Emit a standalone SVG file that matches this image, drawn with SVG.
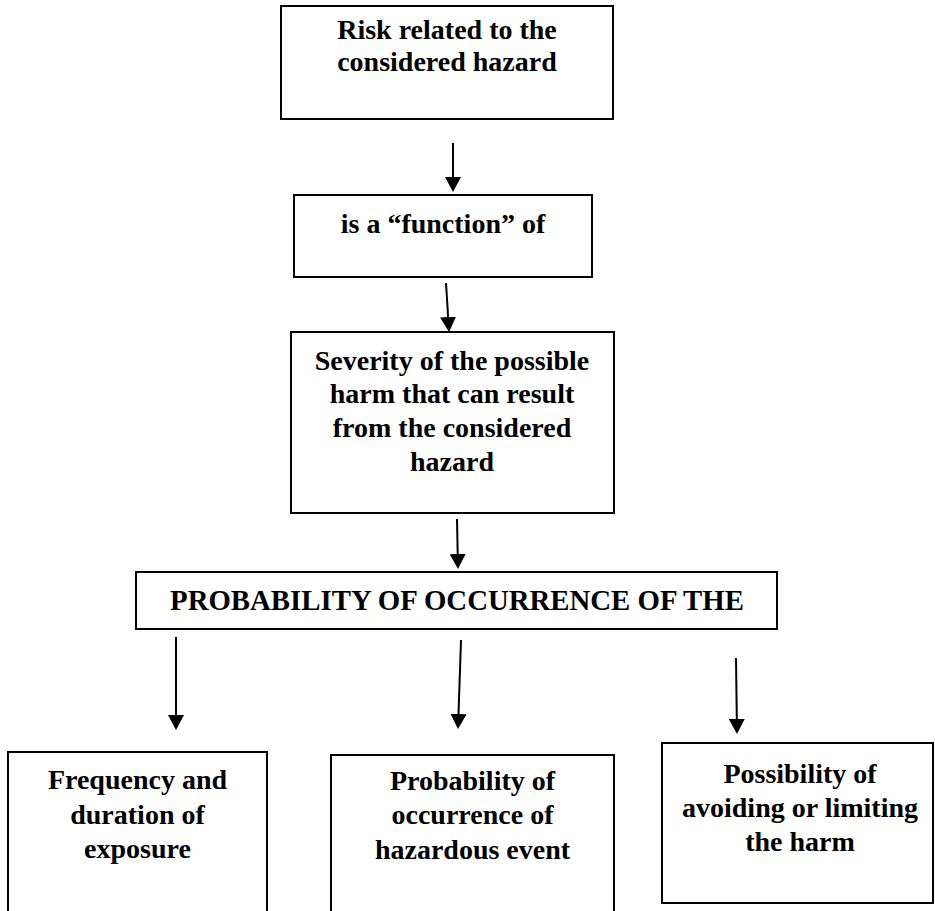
<svg xmlns="http://www.w3.org/2000/svg" width="935" height="911" viewBox="0 0 935 911">
<style>
.box{fill:#fff;stroke:#000;stroke-width:2}
.t{font-family:"Liberation Serif","Times New Roman",serif;font-weight:bold;font-size:28px;fill:#000;text-anchor:middle}
.big{font-size:28.8px}
.c{stroke:#000;stroke-width:2;fill:none;marker-end:url(#ah)}
</style>
<defs>
<marker id="ah" markerUnits="userSpaceOnUse" viewBox="0 0 15 16" markerWidth="15" markerHeight="16" refX="0" refY="8" orient="auto">
<path d="M0,0 L15,8 L0,16 Z" fill="#000"/>
</marker>
</defs>
<rect width="935" height="911" fill="#fff"/>
<g id="n1">
<rect class="box" x="281" y="6" width="332" height="113"/>
<text class="t" x="447" y="39">Risk related to the</text>
<text class="t" x="447" y="71">considered hazard</text>
</g>
<g id="n2">
<rect class="box" x="294" y="195" width="298" height="82"/>
<text class="t" x="443" y="233">is a “function” of</text>
</g>
<g id="n3">
<rect class="box" x="291" y="332" width="323" height="181"/>
<text class="t" x="452" y="370">Severity of the possible</text>
<text class="t" x="452" y="403">harm that can result</text>
<text class="t" x="452" y="437">from the considered</text>
<text class="t" x="452" y="471">hazard</text>
</g>
<g id="n4">
<rect class="box" x="136" y="572" width="641" height="57"/>
<text class="t big" x="457" y="610">PROBABILITY OF OCCURRENCE OF THE</text>
</g>
<g id="n5">
<rect class="box" x="8" y="752" width="259" height="165"/>
<text class="t" x="137.5" y="789">Frequency and</text>
<text class="t" x="137.5" y="824">duration of</text>
<text class="t" x="137.5" y="858">exposure</text>
</g>
<g id="n6">
<rect class="box" x="331" y="755" width="283" height="165"/>
<text class="t" x="472.5" y="790">Probability of</text>
<text class="t" x="472.5" y="824">occurrence of</text>
<text class="t" x="472.5" y="859">hazardous event</text>
</g>
<g id="n7">
<rect class="box" x="662" y="743" width="271" height="160"/>
<text class="t" x="800" y="783">Possibility of</text>
<text class="t" x="800" y="817">avoiding or limiting</text>
<text class="t" x="800" y="851">the harm</text>
</g>
<g id="connectors">
<path class="c" d="M453,143 L453,177"/>
<path class="c" d="M446,283 L448.1,317"/>
<path class="c" d="M457,519 L457.7,554"/>
<path class="c" d="M176,637 L176,715"/>
<path class="c" d="M461,640 L458.5,714"/>
<path class="c" d="M736,658 L736.8,719"/>
</g>
</svg>
